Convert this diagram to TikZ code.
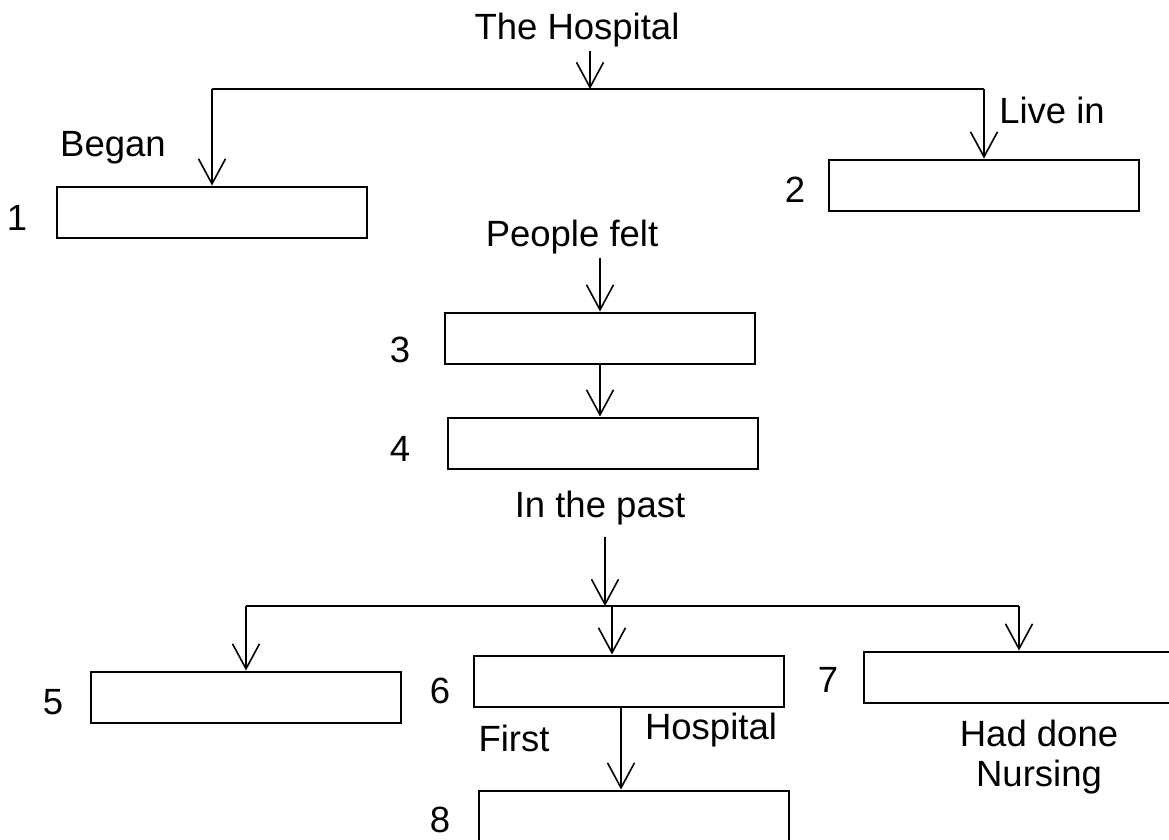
\documentclass[tikz,border=0pt]{standalone}
\usepackage{fontspec}
\setmainfont{Liberation Sans}
\usetikzlibrary{positioning,calc,arrows.meta}

\tikzset{
  blank/.style={draw, line width=2pt, minimum width=310pt, minimum height=51pt, inner sep=0pt},
  word/.style={font=\fontsize{36.5}{40}\selectfont},
  num/.style={font=\fontsize{36.5}{40}\selectfont},
  link/.style={line width=1.8pt},
  arr/.style={line width=1.8pt, -{Straight Barb[length=25pt,width=27pt,line width=1.6pt]}}
}

\begin{document}
\begin{tikzpicture}[x=1pt, y=-1pt]
	\useasboundingbox (0,0) rectangle (1169,839);
	% boxes
	\node[blank] (b1) at (212,212) {};
	\node[blank] (b2) at (984,185) {};
	\node[blank] (b3) at (600,338) {};
	\node[blank] (b4) at (603,443) {};
	\node[blank] (b5) at (246,697) {};
	\node[blank] (b6) at (629,681) {};
	\node[blank] (b7) at (1019,677) {};
	\node[blank] (b8) at (634,816) {};
	% numbers
	\node[num] (n1) at (17,218) {1};
	\node[num] (n2) at (795,190) {2};
	\node[num] (n3) at (400,350) {3};
	\node[num] (n4) at (400,449) {4};
	\node[num] (n5) at (53,702) {5};
	\node[num] (n6) at (440,691) {6};
	\node[num] (n7) at (828,680) {7};
	\node[num] (n8) at (440,820) {8};
	% texts
	\node[word] (hosp) at (577,30) {The Hospital};
	\node[word] (began) at (113,148) {Began};
	\node[word] (livein) at (1052,110) {Live in};
	\node[word] (felt) at (572,237) {People felt};
	\node[word] (past) at (600,508) {In the past};
	\node[word] (first) at (514,738) {First};
	\node[word] (hosp2) at (711,730) {Hospital};
	\node[word, align=center] (nursing) at (1039,757) {Had done\\Nursing};
	% top branch
	\coordinate (top) at (590,89);
	\draw[arr] (hosp.south -| top) -- (top);
	\draw[link] (b1.north |- top) -- (b2.north |- top);
	\draw[arr] (b1.north |- top) -- (b1.north);
	\draw[arr] (b2.north |- top) -- (b2.north);
	% middle chain
	\draw[arr] (felt.south -| b3.north) -- (b3.north);
	\draw[arr] (b3.south) -- (b3.south |- b4.north);
	% bottom branch
	\coordinate (mid) at (605,606);
	\coordinate (m6) at (612,606);
	\draw[arr] ([yshift=-8pt]past.south -| mid) -- (mid);
	\draw[link] (b5.north |- mid) -- (b7.north |- mid);
	\draw[arr] (b5.north |- mid) -- (b5.north);
	\draw[arr] (m6) -- (m6 |- b6.north);
	\draw[arr] (b7.north |- mid) -- (b7.north);
	\draw[arr] ([xshift=-8pt]b6.south) -- ([xshift=-8pt]b6.south |- b8.north);
\end{tikzpicture}
\end{document}
